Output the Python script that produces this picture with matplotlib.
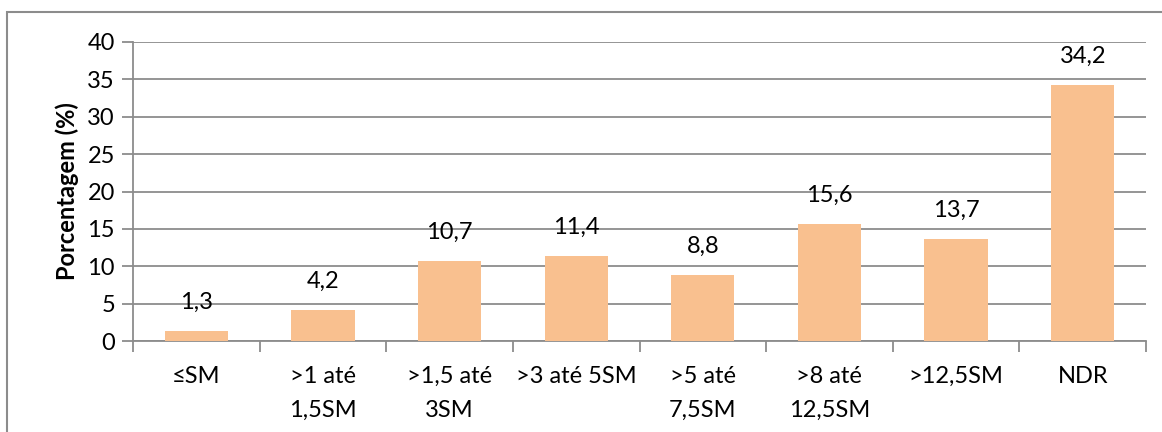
import matplotlib
matplotlib.use("Agg")
import matplotlib.pyplot as plt
from matplotlib.patches import Rectangle
from matplotlib.ticker import FixedLocator

categories = ["≤SM", ">1 até\n1,5SM", ">1,5 até\n3SM", ">3 até 5SM", ">5 até\n7,5SM",
              ">8 até\n12,5SM", ">12,5SM", "NDR"]
values = [1.3, 4.2, 10.7, 11.4, 8.8, 15.6, 13.7, 34.2]
value_labels = ["1,3", "4,2", "10,7", "11,4", "8,8", "15,6", "13,7", "34,2"]
yticks = [0, 5, 10, 15, 20, 25, 30, 35, 40]

plt.rcParams['font.family'] = ['Lato', 'DejaVu Sans']
FS = 17

fig = plt.figure(figsize=(11.62, 4.32), dpi=100)
W, H = 1162, 432
ax = fig.add_axes([133 / W, 1 - 341 / H, (1146 - 133) / W, (341 - 42) / H])

grid_c = "#8c8c8c"
bar_c = "#F9C08F"
x = list(range(len(values)))
ax.bar(x, values, width=0.5, color=bar_c, zorder=3)
ax.set_xlim(-0.5, len(values) - 0.5)
ax.set_ylim(0, 40)
ax.set_yticks(yticks)
ax.set_yticklabels([str(t) for t in yticks], fontsize=FS)
ax.yaxis.grid(True, color=grid_c, linewidth=1.3, zorder=0)
ax.set_axisbelow(True)

ax.set_xticks(x)
ax.set_xticklabels(categories, fontsize=FS, linespacing=1.75, va="top")
ax.tick_params(axis="x", which="major", length=0, pad=18)
ax.xaxis.set_minor_locator(FixedLocator([i - 0.5 for i in range(len(values) + 1)]))
ax.tick_params(axis="x", which="minor", length=8, width=1.3, color=grid_c, direction="out")
ax.tick_params(axis="y", length=8, width=1.3, color=grid_c, pad=5)

for s in ["top", "right"]:
    ax.spines[s].set_visible(False)
for s in ["left", "bottom"]:
    ax.spines[s].set_color(grid_c)
    ax.spines[s].set_linewidth(1.3)

for xi, v, lab in zip(x, values, value_labels):
    ax.annotate(lab, (xi, v), xytext=(0, 13), textcoords="offset points",
                ha="center", va="bottom", fontsize=FS)

ax.set_ylabel("Porcentagem (%)", fontsize=FS, fontweight="bold", labelpad=6)

# outer border
fig.patches.append(Rectangle((7 / W, -0.1), 1.2, 1 - 12 / H + 0.1, transform=fig.transFigure,
                             fill=False, edgecolor="#8c8c8c", linewidth=1.5))

fig.savefig("out.png", dpi=100)
